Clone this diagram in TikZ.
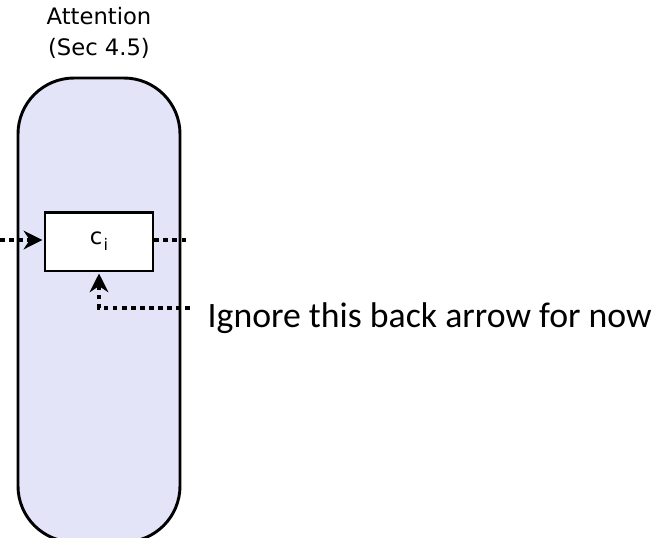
\documentclass[tikz,border=0pt]{standalone}
\usepackage{fontspec}
\setmainfont{DejaVu Sans}
\newfontfamily\notefont{Carlito}
\usetikzlibrary{arrows.meta}

\definecolor{blockfill}{RGB}{228,228,248}

\begin{document}
\begin{tikzpicture}[x=0.75pt,y=-0.75pt,
    dotline/.style={line width=2.4pt,dash pattern=on 3.4pt off 3.4pt},
    flow/.style={dotline,-{Stealth[length=14pt,width=14pt,inset=4.5pt]},shorten >=1pt}]
  \useasboundingbox (0,0) rectangle (654,537);

  \node[draw,line width=2.2pt,fill=blockfill,rounded corners=42pt,
        minimum width=121.5pt,minimum height=348pt] (att) at (99,310) {};
  \node[align=center,font=\fontsize{17}{23}\selectfont] (title) at (99,33) {Attention\\(Sec 4.5)};

  \node[draw,line width=2pt,fill=white,minimum width=81pt,minimum height=44pt,
        font=\fontsize{17}{20}\selectfont] (ci) at (99,241.5)
        {c\kern1pt\raisebox{-4.5pt}{\fontsize{12}{12}\selectfont i}};

  \node[anchor=west,font=\notefont\fontsize{26.8}{32}\selectfont] (note) at (203,318) {Ignore this back arrow for now};

  \coordinate (in) at (0,240);
  \coordinate (out) at (190,240);
  \coordinate (back) at (190,308);

  \draw[flow] (in) -- (ci.west |- in);
  \draw[dotline] (ci.east |- out) -- (out);
  \draw[flow] (back) -| (ci.south);

\end{tikzpicture}
\end{document}
